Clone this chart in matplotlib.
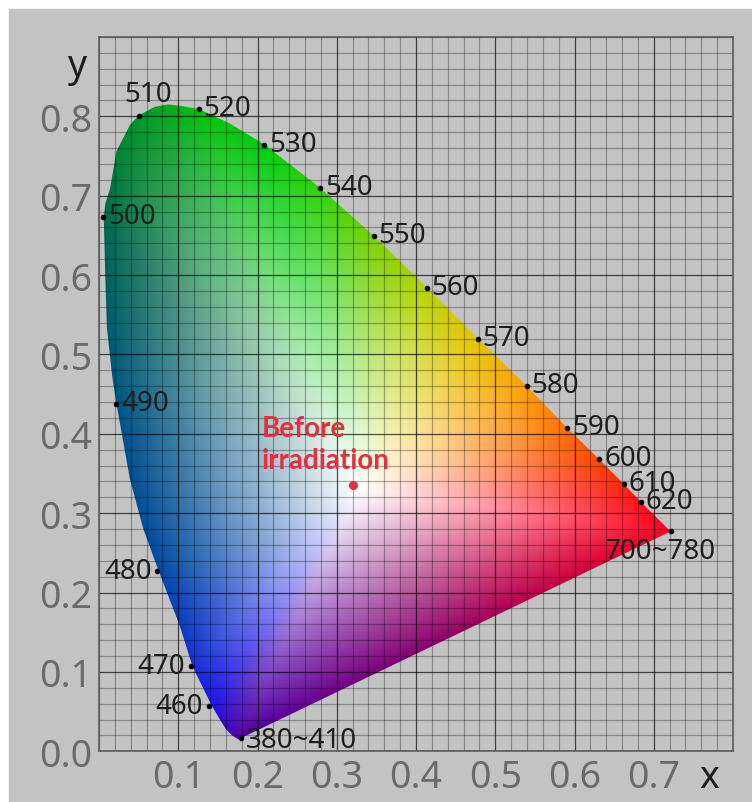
import numpy as np
import matplotlib
matplotlib.use("Agg")
import matplotlib.pyplot as plt
from matplotlib.patches import Polygon, Rectangle
from matplotlib.ticker import MultipleLocator

plt.rcParams["font.family"] = ["Noto Sans", "DejaVu Sans"]

# Outline of the colour region (x, y chromaticity)
edge_x = [0.176, 0.168, 0.160, 0.152, 0.142, 0.118, 0.102, 0.075, 0.056, 0.039,
          0.022, 0.017, 0.010, 0.008, 0.006, 0.008, 0.014, 0.022, 0.039, 0.050,
          0.070, 0.087, 0.105, 0.126, 0.165, 0.208, 0.279, 0.346, 0.414, 0.478,
          0.540, 0.591, 0.631, 0.662, 0.684, 0.721]
edge_y = [0.015, 0.020, 0.028, 0.041, 0.058, 0.107, 0.158, 0.228, 0.280, 0.343,
          0.438, 0.470, 0.533, 0.596, 0.673, 0.690, 0.709, 0.756, 0.789, 0.801,
          0.812, 0.815, 0.813, 0.809, 0.791, 0.765, 0.710, 0.650, 0.584, 0.520,
          0.460, 0.407, 0.368, 0.337, 0.314, 0.277]

# Wavelength marks (nm) on the locus
wl_labels = ["380~410", "460", "470", "480", "490", "500", "510", "520", "530",
             "540", "550", "560", "570", "580", "590", "600", "610", "620", "700~780"]
wl_x = [0.179, 0.1387, 0.1160, 0.0735, 0.0214, 0.0054, 0.0504, 0.1257, 0.2081,
        0.2787, 0.3464, 0.4136, 0.4779, 0.5397, 0.5906, 0.6310, 0.6620, 0.6835, 0.7213]
wl_y = [0.017, 0.0575, 0.1070, 0.2278, 0.4380, 0.6730, 0.8010, 0.8087, 0.7645,
        0.7103, 0.6498, 0.5842, 0.5199, 0.4603, 0.4074, 0.3680, 0.3367, 0.3140, 0.2774]

# Sample point
sample_x = [0.320]
sample_y = [0.336]
sample_label = "Before\nirradiation"

x_ticks = [0.1, 0.2, 0.3, 0.4, 0.5, 0.6, 0.7]
y_ticks = [0.0, 0.1, 0.2, 0.3, 0.4, 0.5, 0.6, 0.7, 0.8]

# style: colour seen at the rim next to each wavelength mark, plus the purple line
rim_colors = [(80, 0, 170), (30, 20, 235), (20, 50, 215), (0, 75, 165), (0, 85, 130),
              (0, 105, 75), (0, 150, 40), (0, 195, 10), (0, 205, 10), (50, 210, 10),
              (120, 210, 0), (185, 210, 0), (230, 195, 0), (250, 160, 0), (255, 115, 0),
              (255, 70, 0), (255, 40, 10), (255, 20, 20), (255, 0, 30)]
purple_pt = (0.4485, 0.146)
purple_color = (150, 0, 100)
white_pt = (0.33, 0.33)
bg = "#c3c3c3"


def fill_colors(gx, gy):
    # densify the outline
    px = np.array(edge_x + [edge_x[0]])
    py = np.array(edge_y + [edge_y[0]])
    bx, by = [], []
    for i in range(len(px) - 1):
        f = np.linspace(0, 1, 60, endpoint=False)
        bx.append(px[i] + f * (px[i + 1] - px[i]))
        by.append(py[i] + f * (py[i + 1] - py[i]))
    bx = np.concatenate(bx)
    by = np.concatenate(by)
    seg = np.hypot(np.diff(bx, append=bx[0]), np.diff(by, append=by[0]))
    s = np.concatenate([[0], np.cumsum(seg)[:-1]])
    total = seg.sum()

    # colour anchors along the outline
    ax_ = list(wl_x) + [purple_pt[0]]
    ay_ = list(wl_y) + [purple_pt[1]]
    cols = np.array(rim_colors + [purple_color], dtype=float) / 255
    idx = [np.argmin(np.hypot(bx - a, by - b)) for a, b in zip(ax_, ay_)]
    sa = s[idx]
    order = np.argsort(sa)
    sa = sa[order]
    cols = cols[order]
    sa_w = np.concatenate([sa - total, sa, sa + total])
    cols_w = np.vstack([cols, cols, cols])
    rim = np.stack([np.interp(s, sa_w, cols_w[:, k]) for k in range(3)], axis=-1)

    # radius of outline for every angle around the white point
    th = np.arctan2(by - white_pt[1], bx - white_pt[0])
    rr = np.hypot(bx - white_pt[0], by - white_pt[1])
    o = np.argsort(th)
    th, rr, rim = th[o], rr[o], rim[o]
    th_w = np.concatenate([th - 2 * np.pi, th, th + 2 * np.pi])
    rr_w = np.concatenate([rr, rr, rr])
    rim_w = np.vstack([rim, rim, rim])

    gth = np.arctan2(gy - white_pt[1], gx - white_pt[0])
    gr = np.hypot(gx - white_pt[0], gy - white_pt[1])
    R = np.interp(gth, th_w, rr_w)
    t = np.clip(gr / R, 0, 1) ** 1.05
    out = np.empty(gx.shape + (3,))
    for k in range(3):
        c = np.interp(gth, th_w, rim_w[:, k])
        out[..., k] = (1 - t) + t * c
    return np.clip(out, 0, 1)


fig = plt.figure(figsize=(7.52, 8.03), dpi=100)
fig.patch.set_facecolor("white")
fig.patches.append(Rectangle((9 / 752, 0), 743 / 752, 793 / 803,
                             transform=fig.transFigure, color=bg, zorder=-10))

ax = fig.add_axes([99 / 752, 50.7 / 803, 634 / 752, 714.3 / 803])
ax.set_zorder(5)
ax.set_facecolor(bg)
ax.set_xlim(0, 0.8)
ax.set_ylim(0, 0.9)

gx, gy = np.meshgrid(np.linspace(0, 0.8, 640), np.linspace(0, 0.9, 720))
img = fill_colors(gx, gy)
outline = Polygon(np.column_stack([edge_x, edge_y]), closed=True,
                  facecolor="none", edgecolor="none", transform=ax.transData)
ax.add_patch(outline)
im = ax.imshow(img, extent=[0, 0.8, 0, 0.9], origin="lower",
               interpolation="bilinear", aspect="auto", zorder=1)
im.set_clip_path(outline)

# grid on top of the colours
ax.xaxis.set_minor_locator(MultipleLocator(0.02))
ax.yaxis.set_minor_locator(MultipleLocator(0.02))
ax.grid(which="minor", color="black", alpha=0.3, linewidth=0.9, zorder=2)
ax.grid(which="major", color="black", alpha=0.68, linewidth=0.9, zorder=2)
ax.set_axisbelow(False)

ax.set_xticks(x_ticks)
ax.set_xticklabels([f"{t:.1f}" for t in x_ticks])
ax.set_yticks(y_ticks)
ax.set_yticklabels([f"{t:.1f}" for t in y_ticks])
ax.tick_params(which="both", length=0, labelsize=27, labelcolor="#6a6a6a")
ax.tick_params(axis="x", pad=5)
ax.tick_params(axis="y", pad=5)
for s in ax.spines.values():
    s.set_color("#5a5a5a")
    s.set_linewidth(1.2)
    s.set_zorder(3)

# wavelength dots and labels
ax.scatter(wl_x, wl_y, s=9, color="black", zorder=4)
offsets = {"380~410": (5, -2, "left"), "460": (-6, 0, "right"), "470": (-6, 0, "right"),
           "480": (-5, 0, "right"), "510": (9, 8, "center"), "700~780": (-10, -6, "center")}
for lab, px, py in zip(wl_labels, wl_x, wl_y):
    dx, dy, ha = offsets.get(lab, (5, 1, "left"))
    va = "center"
    if lab == "510":
        va = "bottom"
    elif lab == "700~780":
        va = "top"
    ax.annotate(lab, (px, py), xytext=(dx, dy), textcoords="offset pixels",
                ha=ha, va=va, fontsize=20, color="#1e1e1e", zorder=5)

# sample point
ax.scatter(sample_x, sample_y, s=30, color="#e2303c", zorder=5)
ax.annotate(sample_label, (sample_x[0], sample_y[0]), xytext=(-91, 70),
            textcoords="offset pixels", ha="left", va="top", fontsize=20,
            fontweight="bold", family=["Lato", "DejaVu Sans"], color="#e2303c",
            linespacing=1.32, zorder=5)

# axis names
ax.text(0.77, -0.033, "x", ha="center", va="center", fontsize=27, color="#1e1e1e",
        clip_on=False)
ax.text(-0.027, 0.864, "y", ha="center", va="center", fontsize=27, color="#1e1e1e",
        clip_on=False)

fig.savefig("out.png", dpi=100, facecolor=fig.get_facecolor())
